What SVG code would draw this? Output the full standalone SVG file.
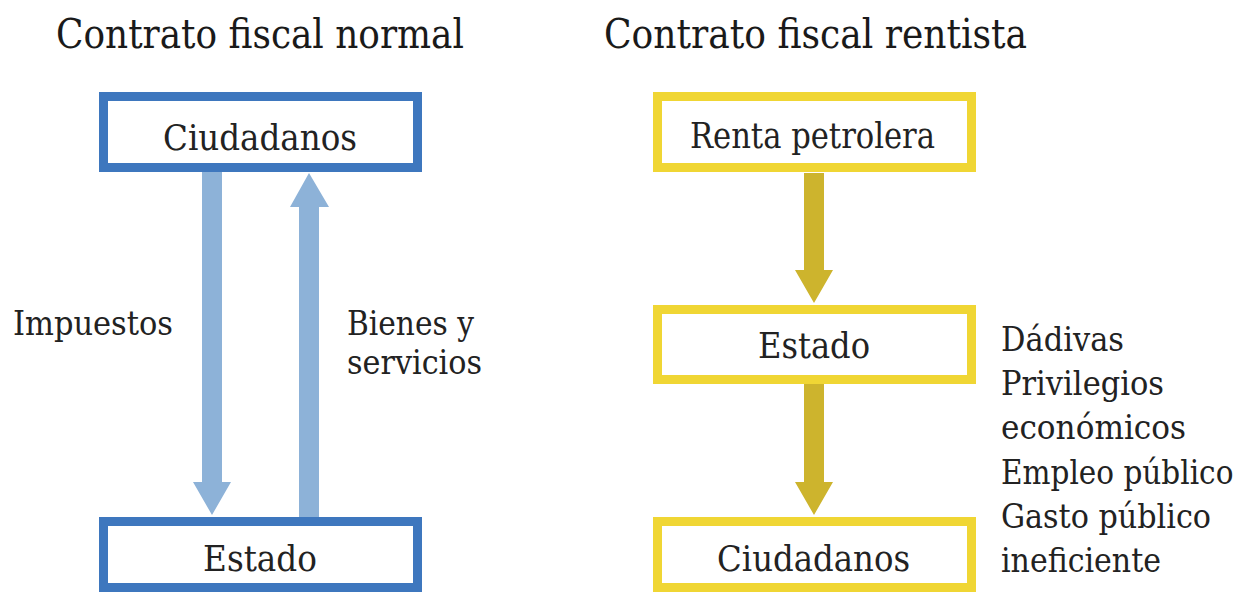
<svg xmlns="http://www.w3.org/2000/svg" width="1242" height="592" viewBox="0 0 1242 592">
<style>
text{font-family:"DejaVu Serif","Liberation Serif",serif;fill:#222}
.title{font-size:41px;fill:#1a1a1a}
.box{font-size:35px}
.lbl{font-size:33px}
.bluebox{fill:#fff;stroke:#3e77be;stroke-width:9}
.yelbox{fill:#fff;stroke:#f0d634;stroke-width:9}
.bluearr{fill:#8db2d8}
.yelarr{fill:#cdb42d}
</style>
<rect width="1242" height="592" fill="#fff"/>
<g id="titles">
<text class="title" x="56" y="48" textLength="408" lengthAdjust="spacingAndGlyphs">Contrato fiscal normal</text>
<text class="title" x="604" y="48" textLength="423" lengthAdjust="spacingAndGlyphs">Contrato fiscal rentista</text>
</g>
<g id="connectors">
<polygon class="bluearr" points="202,172 222,172 222,482 231,482 212,515 193,482 202,482"/>
<polygon class="bluearr" points="299,517 319,517 319,207 329,207 309,173 290,207 299,207"/>
<polygon class="yelarr" points="804,173 824,173 824,270 833,270 814,303 795,270 804,270"/>
<polygon class="yelarr" points="804,384 824,384 824,482 833,482 814,515 795,482 804,482"/>
</g>
<g id="n-ciudadanos-normal">
<rect class="bluebox" x="103.5" y="96.5" width="314" height="71"/>
<text class="box" x="163" y="150" textLength="194" lengthAdjust="spacingAndGlyphs">Ciudadanos</text>
</g>
<g id="n-estado-normal">
<rect class="bluebox" x="103.5" y="521.5" width="314" height="66"/>
<text class="box" x="203" y="571" textLength="114" lengthAdjust="spacingAndGlyphs">Estado</text>
</g>
<g id="l-impuestos">
<text class="lbl" x="13" y="335" textLength="160" lengthAdjust="spacingAndGlyphs">Impuestos</text>
</g>
<g id="l-bienes">
<text class="lbl" x="347" y="335" textLength="127" lengthAdjust="spacingAndGlyphs">Bienes y</text>
<text class="lbl" x="347" y="374" textLength="135" lengthAdjust="spacingAndGlyphs">servicios</text>
</g>
<g id="n-renta">
<rect class="yelbox" x="657.5" y="96.5" width="314" height="71"/>
<text class="box" x="690" y="148" textLength="245" lengthAdjust="spacingAndGlyphs">Renta petrolera</text>
</g>
<g id="n-estado-rentista">
<rect class="yelbox" x="657.5" y="309.5" width="314" height="70"/>
<text class="box" x="758" y="358" textLength="112" lengthAdjust="spacingAndGlyphs">Estado</text>
</g>
<g id="n-ciudadanos-rentista">
<rect class="yelbox" x="657.5" y="521.5" width="314" height="66"/>
<text class="box" x="717" y="571" textLength="193" lengthAdjust="spacingAndGlyphs">Ciudadanos</text>
</g>
<g id="l-lista">
<text class="lbl" x="1001" y="351" textLength="123" lengthAdjust="spacingAndGlyphs">Dádivas</text>
<text class="lbl" x="1001" y="395" textLength="163" lengthAdjust="spacingAndGlyphs">Privilegios</text>
<text class="lbl" x="1001" y="439" textLength="185" lengthAdjust="spacingAndGlyphs">económicos</text>
<text class="lbl" transform="translate(1001,484) scale(0.83,1)" x="0" y="0" textLength="280" lengthAdjust="spacingAndGlyphs">Empleo público</text>
<text class="lbl" x="1001" y="528" textLength="210" lengthAdjust="spacingAndGlyphs">Gasto público</text>
<text class="lbl" x="1001" y="572" textLength="160" lengthAdjust="spacingAndGlyphs">ineficiente</text>
</g>
</svg>
